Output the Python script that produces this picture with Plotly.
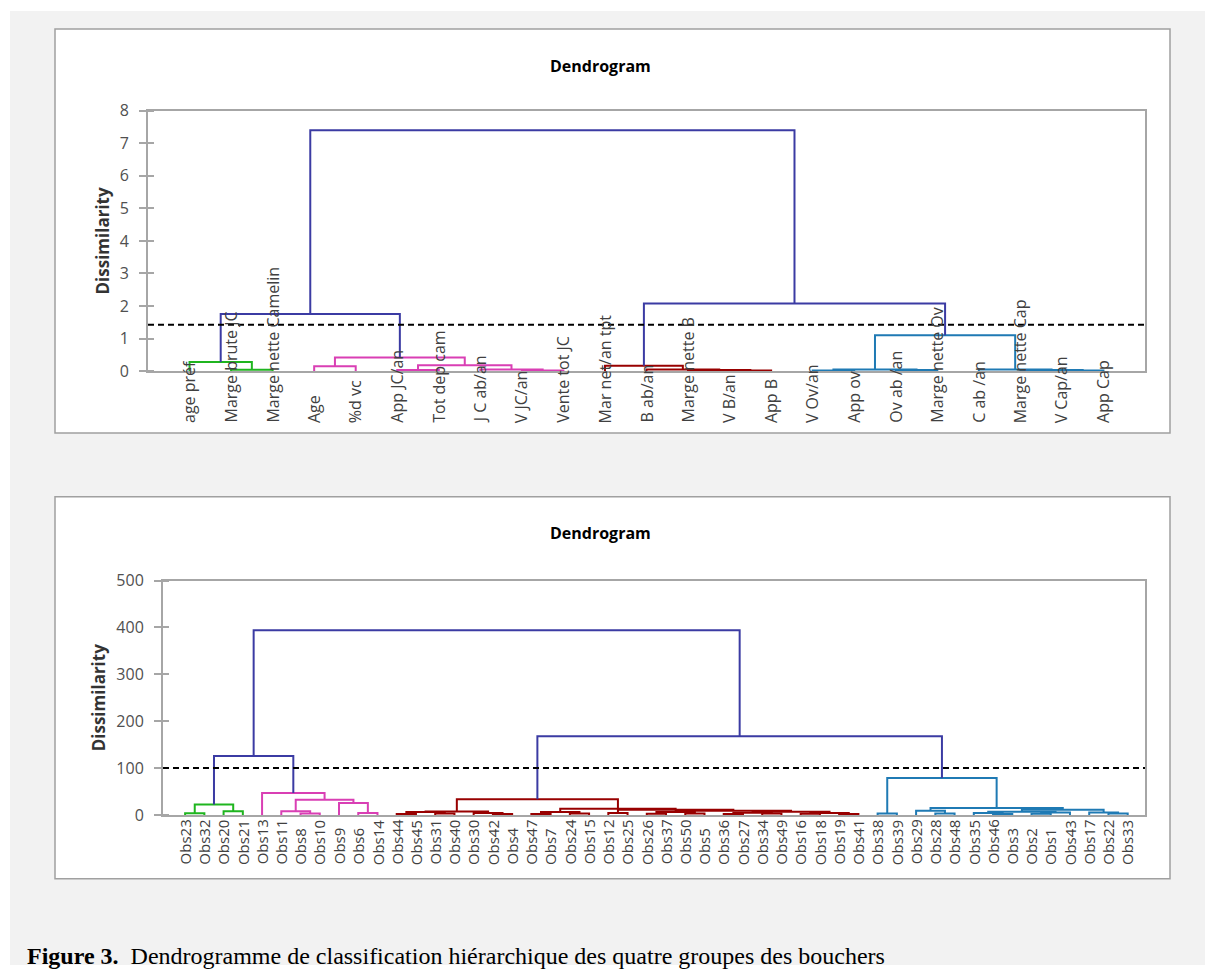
import plotly.graph_objects as go

# ---------------- data : dendrogram of the variables (top) ----------------
var_labels = ["age préf", "Marge brute JC", "Marge nette Camelin", "Age", "%d vc",
              "App JC/an", "Tot dep cam", "J C ab/an", "V JC/an", "Vente tot JC",
              "Mar net/an tpt", "B ab/an", "Marge nette B", "V B/an", "App B",
              "V Ov/an", "App ov", "Ov ab /an", "Marge nette Ov", "C ab /an",
              "Marge nette Cap", "V Cap/an", "App Cap"]
var_groups = [0, 0, 0, 1, 1, 1, 1, 1, 1, 1, 2, 2, 2, 2, 2, 3, 3, 3, 3, 3, 3, 3, 3]
# merges: node ids 0..22 are leaves, each merge creates node 23, 24, ...
var_merge_left = [1, 0, 3, 5, 8, 7, 26, 25, 24, 13, 12, 11, 10, 15, 17, 36, 21, 20, 19, 38, 35, 31]
var_merge_right = [2, 23, 4, 6, 9, 27, 28, 29, 30, 14, 32, 33, 34, 16, 18, 37, 22, 39, 40, 41, 42, 43]
var_merge_height = [0.04, 0.28, 0.15, 0.03, 0.02, 0.05, 0.18, 0.42, 1.75, 0.02, 0.03, 0.05, 0.16,
                    0.02, 0.03, 0.05, 0.02, 0.03, 0.05, 1.10, 2.08, 7.40]
var_cut = 1.42
var_yticks = [0, 1, 2, 3, 4, 5, 6, 7, 8]

# ---------------- data : dendrogram of the observations (bottom) ----------------
obs_labels = ["Obs23", "Obs32", "Obs20", "Obs21", "Obs13", "Obs11", "Obs8", "Obs10", "Obs9",
              "Obs6", "Obs14", "Obs44", "Obs45", "Obs31", "Obs40", "Obs30", "Obs42", "Obs4",
              "Obs47", "Obs7", "Obs24", "Obs15", "Obs12", "Obs25", "Obs26", "Obs37", "Obs50",
              "Obs5", "Obs36", "Obs27", "Obs34", "Obs49", "Obs16", "Obs18", "Obs19", "Obs41",
              "Obs38", "Obs39", "Obs29", "Obs28", "Obs48", "Obs35", "Obs46", "Obs3", "Obs2",
              "Obs1", "Obs43", "Obs17", "Obs22", "Obs33"]
obs_groups = [0] * 4 + [1] * 7 + [2] * 25 + [3] * 14
obs_merge_left = [0, 2, 50, 6, 5, 9, 8, 54, 4, 52,
                  11, 13, 60, 16, 15, 62,
                  18, 20, 66, 22, 24, 26, 70, 28, 30, 73, 32, 34, 76, 75, 72, 69, 68, 65,
                  36, 39, 38, 42, 41, 44, 89, 88, 48, 47, 91, 86, 84, 83, 59]
obs_merge_right = [1, 3, 51, 7, 53, 10, 55, 56, 57, 58,
                   12, 14, 61, 17, 63, 64,
                   19, 21, 67, 23, 25, 27, 71, 29, 31, 74, 33, 35, 77, 78, 79, 80, 81, 82,
                   37, 40, 85, 43, 87, 45, 46, 90, 49, 92, 93, 94, 95, 96, 97]
obs_merge_height = [3.5, 8, 22, 3, 8, 4, 25.5, 32.6, 47, 125.5,
                    2, 3, 6, 2, 4, 7.5,
                    2, 3, 6, 4, 2.5, 3, 6, 2, 3, 4.5, 2.5, 2, 4, 7, 9, 11, 13, 33.5,
                    3, 3, 9, 2, 4, 2.5, 5, 7, 3, 5, 11, 15, 79, 168, 394]
obs_cut = 100
obs_yticks = [0, 100, 200, 300, 400, 500]

group_colors = ["#1fb51f", "#d93fb4", "#980000", "#1f7ab4"]
link_color = "#3b3ba3"

W, H = 1205, 976
FONT = "Open Sans"


def px(x):
    return x / W


def py(y):
    # page y (pixels from top, as seen in the reference) -> paper fraction
    return 1 - ((y - 10) / 0.98) / H


def dendro_traces(n, lefts, rights, heights, groups, xa, ya):
    xs = [float(i) for i in range(n)]
    hs = [0.0] * n
    grp = list(groups)
    segs = {}
    for a, b, h in zip(lefts, rights, heights):
        g = grp[a] if grp[a] == grp[b] else -1
        sx, sy = segs.setdefault(g, ([], []))
        sx += [xs[a], xs[a], xs[b], xs[b], None]
        sy += [hs[a], h, h, hs[b], None]
        xs.append((xs[a] + xs[b]) / 2)
        hs.append(h)
        grp.append(g)
    traces = []
    for g in sorted(segs.keys(), reverse=True):
        sx, sy = segs[g]
        traces.append(go.Scatter(x=sx, y=sy, mode="lines", xaxis=xa, yaxis=ya,
                                 line=dict(color=group_colors[g] if g >= 0 else link_color, width=2),
                                 hoverinfo="skip", showlegend=False))
    return traces


fig = go.Figure()
for t in dendro_traces(len(var_labels), var_merge_left, var_merge_right, var_merge_height,
                       var_groups, "x", "y"):
    fig.add_trace(t)
for t in dendro_traces(len(obs_labels), obs_merge_left, obs_merge_right, obs_merge_height,
                       obs_groups, "x2", "y2"):
    fig.add_trace(t)

axis_line = "#a6a6a6"
common_x = dict(showticklabels=False, ticks="", showgrid=False, zeroline=False,
                showline=True, linecolor=axis_line, linewidth=2, mirror=True, layer="below traces")


def yaxis_style(tickvals, span):
    eps = span * 1e-6
    return dict(ticks="outside", ticklen=7, tickwidth=2, tickcolor=axis_line, showgrid=False,
                zeroline=False, showline=True, linecolor=axis_line, linewidth=2, mirror=True,
                tickvals=tickvals,
                minor=dict(tickmode="array", tickvals=[v + eps for v in tickvals], ticks="inside",
                           ticklen=6, tickwidth=2, tickcolor=axis_line, showgrid=False),
                tickfont=dict(family=FONT, size=16, color="#505050"), ticklabelstandoff=7,
                layer="below traces",
                title=dict(text="<b>Dissimilarity</b>", standoff=6,
                           font=dict(family=FONT, size=17, color="#333333")))


fig.update_layout(
    width=W, height=H, margin=dict(l=0, r=0, t=0, b=0),
    paper_bgcolor="white", plot_bgcolor="white", showlegend=False,
    xaxis=dict(domain=[px(148), px(1145)], range=[-1, 23], anchor="y", **common_x),
    yaxis=dict(domain=[py(371), py(110)], range=[0, 8], anchor="x", **yaxis_style(var_yticks, 8)),
    xaxis2=dict(domain=[px(163), px(1145)], range=[-1.15, 49.9], anchor="y2", **common_x),
    yaxis2=dict(domain=[py(816), py(581)], range=[0, 500], anchor="x2",
                **yaxis_style(obs_yticks, 500)),
)

shapes = [
    dict(type="rect", xref="paper", yref="paper", x0=px(10), x1=1, y0=0, y1=py(10),
         fillcolor="#f2f2f2", line=dict(width=0), layer="below"),
    dict(type="rect", xref="paper", yref="paper", x0=px(55), x1=px(1170), y0=py(433), y1=py(28),
         fillcolor="white", line=dict(color="#a0a0a0", width=1.5), layer="below"),
    dict(type="rect", xref="paper", yref="paper", x0=px(55), x1=px(1170), y0=py(880), y1=py(497),
         fillcolor="white", line=dict(color="#a0a0a0", width=1.5), layer="below"),
    dict(type="line", xref="x domain", yref="y", x0=0, x1=1, y0=var_cut, y1=var_cut,
         line=dict(color="black", width=2, dash="6px,4px"), layer="above"),
    dict(type="line", xref="x2 domain", yref="y2", x0=0, x1=1, y0=obs_cut, y1=obs_cut,
         line=dict(color="black", width=2, dash="6px,4px"), layer="above"),
]
fig.update_layout(shapes=shapes)

ann = []
for i, lab in enumerate(var_labels):
    ann.append(dict(x=i, xref="x", y=py(425), yref="paper", text=lab, textangle=-90,
                    xanchor="center", yanchor="bottom", showarrow=False,
                    font=dict(family=FONT, size=16, color="#404040")))
for i, lab in enumerate(obs_labels):
    ann.append(dict(x=i, xref="x2", y=py(868), yref="paper", text=lab, textangle=-90,
                    xanchor="center", yanchor="bottom", showarrow=False,
                    font=dict(family=FONT, size=15, color="#404040")))
for yy in (65, 533):
    ann.append(dict(x=px(600), y=py(yy), xref="paper", yref="paper", text="<b>Dendrogram</b>",
                    showarrow=False, xanchor="center", yanchor="middle",
                    font=dict(family=FONT, size=16, color="black")))
ann.append(dict(x=px(25), y=py(957), xref="paper", yref="paper",
                text="<b>Figure 3.</b>\u00a0 Dendrogramme de classification hiérarchique des quatre groupes des bouchers",
                showarrow=False, xanchor="left", yanchor="middle",
                font=dict(family="Liberation Serif", size=24, color="black")))
fig.update_layout(annotations=ann)

fig.write_html("out.html", config={"displayModeBar": False},
               post_script="document.body.style.margin='0px';")
